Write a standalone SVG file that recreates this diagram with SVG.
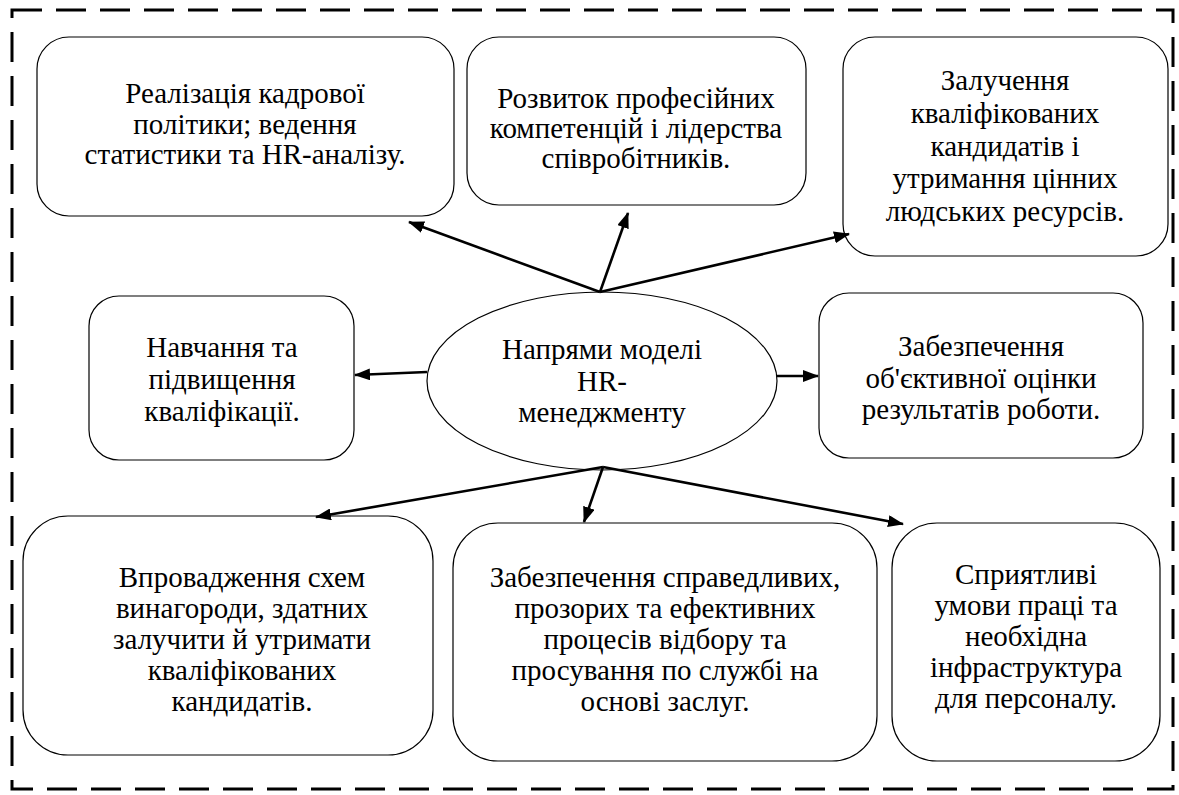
<svg xmlns="http://www.w3.org/2000/svg" width="1179" height="795" viewBox="0 0 1179 795">
<style>
.box{fill:#fff;stroke:#000;stroke-width:1.2}
.t{font-family:'Liberation Serif','Times New Roman',serif;font-size:29px;fill:#000;text-anchor:middle}
.c{stroke:#000;stroke-width:2.6;fill:none;marker-end:url(#ah)}
</style>
<defs>
<marker id="ah" viewBox="0 0 16 12" refX="15" refY="6" markerWidth="16" markerHeight="12" markerUnits="userSpaceOnUse" orient="auto">
<path d="M0,0 L16,6 L0,12 z" fill="#000"/>
</marker>
</defs>
<rect width="1179" height="795" fill="#fff"/>
<rect id="frame" x="12" y="10" width="1161" height="779" fill="none" stroke="#000" stroke-width="3" stroke-dasharray="30 14"/>
<g id="n1"><rect class="box" x="37" y="37" width="417" height="179" rx="32"/>
<text class="t" x="245" y="103">Реалізація кадрової</text><text class="t" x="245" y="134">політики; ведення</text><text class="t" x="245" y="164">статистики та HR-аналізу.</text></g>
<g id="n2"><rect class="box" x="467" y="37" width="339" height="168" rx="32"/>
<text class="t" x="636" y="108">Розвиток професійних</text><text class="t" x="636" y="138">компетенцій і лідерства</text><text class="t" x="636" y="168">співробітників.</text></g>
<g id="n3"><rect class="box" x="843" y="37" width="325" height="219" rx="32"/>
<text class="t" x="1005" y="90">Залучення</text><text class="t" x="1005" y="123">кваліфікованих</text><text class="t" x="1005" y="156">кандидатів і</text><text class="t" x="1005" y="188">утримання цінних</text><text class="t" x="1005" y="221">людських ресурсів.</text></g>
<g id="n4"><rect class="box" x="89" y="296" width="265" height="164" rx="30"/>
<text class="t" x="222" y="357">Навчання та</text><text class="t" x="222" y="389">підвищення</text><text class="t" x="222" y="421">кваліфікації.</text></g>
<g id="center"><ellipse class="box" cx="602" cy="381" rx="175" ry="89"/>
<text class="t" x="602" y="359">Напрями моделі</text><text class="t" x="602" y="391">HR-</text><text class="t" x="602" y="422">менеджменту</text></g>
<g id="n5"><rect class="box" x="819" y="293" width="324" height="165" rx="30"/>
<text class="t" x="981" y="356">Забезпечення</text><text class="t" x="981" y="388">об'єктивної оцінки</text><text class="t" x="981" y="419">результатів роботи.</text></g>
<g id="n6"><rect class="box" x="23" y="516" width="410" height="239" rx="45"/>
<text class="t" x="242" y="587">Впровадження схем</text><text class="t" x="242" y="618">винагороди, здатних</text><text class="t" x="242" y="649">залучити й утримати</text><text class="t" x="242" y="680">кваліфікованих</text><text class="t" x="242" y="711">кандидатів.</text></g>
<g id="n7"><rect class="box" x="453" y="523" width="424" height="238" rx="45"/>
<text class="t" x="665" y="587">Забезпечення справедливих,</text><text class="t" x="665" y="618">прозорих та ефективних</text><text class="t" x="665" y="649">процесів відбору та</text><text class="t" x="665" y="680">просування по службі на</text><text class="t" x="665" y="711">основі заслуг.</text></g>
<g id="n8"><rect class="box" x="892" y="523" width="268" height="238" rx="45"/>
<text class="t" x="1026" y="584">Сприятливі</text><text class="t" x="1026" y="615">умови праці та</text><text class="t" x="1026" y="646">необхідна</text><text class="t" x="1026" y="677">інфраструктура</text><text class="t" x="1026" y="708">для персоналу.</text></g>
<g id="connectors">
<line class="c" x1="600" y1="292" x2="409" y2="222"/>
<line class="c" x1="600" y1="292" x2="628" y2="213"/>
<line class="c" x1="600" y1="292" x2="849" y2="234"/>
<line class="c" x1="427" y1="372" x2="355" y2="375"/>
<line class="c" x1="777" y1="376" x2="818" y2="376"/>
<line class="c" x1="603" y1="467" x2="316" y2="517"/>
<line class="c" x1="603" y1="467" x2="584" y2="522"/>
<line class="c" x1="603" y1="467" x2="903" y2="524"/>
</g>
</svg>
